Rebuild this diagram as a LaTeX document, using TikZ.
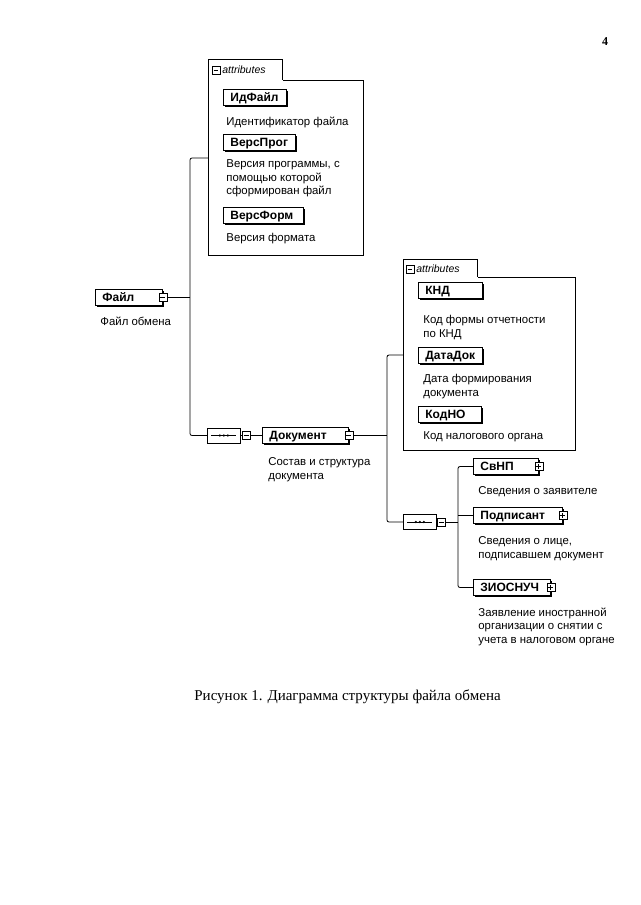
\documentclass[tikz,border=0pt]{standalone}
\usepackage{fontspec}
\setmainfont{Liberation Serif}
\newfontfamily\arialf{Liberation Sans}
\usetikzlibrary{shapes.misc,shadows}
\begin{document}
\begin{tikzpicture}[x=1pt,y=-1pt,
  line width=0.8pt,
  elem/.style={draw, line width=0.8pt, fill=white, anchor=west, minimum height=15.5pt,
    inner xsep=7pt, inner ysep=0pt, align=left, text width=#1,
    text height=8.6pt, text depth=0pt,
    font=\arialf\bfseries\fontsize{12}{13}\selectfont,
    drop shadow={shadow xshift=1.3pt, shadow yshift=-1.3pt, fill=black, opacity=1}},
  desc/.style={anchor=north west, inner sep=0pt, align=left,
    font=\arialf\fontsize{11.4}{13.5}\selectfont},
  mbox/.style={draw, fill=white, line width=0.6pt, minimum size=8pt, inner sep=0pt,
    path picture={\draw[line width=0.7pt] ([xshift=1.6pt]path picture bounding box.west) -- ([xshift=-1.6pt]path picture bounding box.east);}},
  pbox/.style={draw, fill=white, line width=0.6pt, minimum size=8pt, inner sep=0pt,
    path picture={\draw[line width=0.7pt] ([xshift=1.6pt]path picture bounding box.west) -- ([xshift=-1.6pt]path picture bounding box.east);
      \draw[line width=0.7pt] ([yshift=1.6pt]path picture bounding box.south) -- ([yshift=-1.6pt]path picture bounding box.north);}},
  seq/.style={chamfered rectangle, chamfered rectangle xsep=4pt, draw, line width=0.8pt,
    minimum width=33pt, minimum height=15pt, inner sep=0pt, anchor=west,
    path picture={\draw[line width=0.7pt] ([xshift=4pt]path picture bounding box.west) -- ([xshift=-4pt]path picture bounding box.east);
      \foreach \d in {-4,0,4} \fill ([xshift=\d pt]path picture bounding box.center) circle (1.3pt);}},
  attlabel/.style={anchor=west, inner sep=0pt, font=\arialf\itshape\fontsize{10.5}{12}\selectfont},
  cont/.style={anchor=north west, inner sep=0pt}
]
\useasboundingbox (0,0) rectangle (640,905);

% page number
\node[font=\bfseries\fontsize{12}{14}\selectfont] (pg) at (605,42) {4};

% ---------- root element
\node[elem=53pt] (fajl) at (95,297.5) {Файл};
\node[mbox] (fajlm) at (fajl.east) {};
\node[desc] (fajld) at (100,317) {Файл обмена};

% ---------- attributes box 1
\node[cont, minimum width=74pt, minimum height=20pt, anchor=south west] (tab1) at (208,80) {};
\node[cont, minimum width=155pt, minimum height=175pt] (att1) at (208,80) {};
\draw (tab1.south east) -- (att1.north east) -- (att1.south east) -- (att1.south west)
      -- (tab1.north west) -- (tab1.north east) -- (tab1.south east);
\node[mbox] (tab1m) at (216,70) {};
\node[attlabel] (tab1t) at (222,70) {attributes};

\node[elem=49pt] (idf) at (223,97.5) {ИдФайл};
\node[desc] (idfd) at (226,116.5) {Идентификатор файла};
\node[elem=58pt] (vprog) at (223,142.5) {ВерсПрог};
\node[desc] (vprogd) at (226,159.5) {Версия программы, с\\помощью которой\\сформирован файл};
\node[elem=66pt] (vform) at (223,215.5) {ВерсФорм};
\node[desc] (vformd) at (226,232.5) {Версия формата};

% ---------- sequence 1 and Документ
\node[seq] (seq1) at (207,435.5) {};
\node[mbox, anchor=west] (seq1m) at ([xshift=1pt]seq1.east) {};
\node[elem=72pt] (doc) at (262,435.5) {Документ};
\node[mbox] (docm) at (doc.east) {};
\node[desc] (docd) at (268,457.5) {Состав и структура\\документа};

% connectors from Файл
\coordinate (j1) at (190,297.5);
\coordinate (j1top) at (190,158);
\coordinate (j1bot) at (190,435.5);
\draw (fajlm.east) -- (j1);
\draw[rounded corners=2pt] (att1.west |- j1top) -- (j1top) -- (j1bot) -- (seq1.west);
\draw (seq1.east) -- (seq1m.west);
\draw (seq1m.east) -- (doc.west);

% ---------- attributes box 2
\node[cont, minimum width=74pt, minimum height=17pt, anchor=south west] (tab2) at (403,277) {};
\node[cont, minimum width=172pt, minimum height=173pt] (att2) at (403,277) {};
\draw (tab2.south east) -- (att2.north east) -- (att2.south east) -- (att2.south west)
      -- (tab2.north west) -- (tab2.north east) -- (tab2.south east);
\node[mbox] (tab2m) at (410,269) {};
\node[attlabel] (tab2t) at (416,269) {attributes};

\node[elem=50pt] (knd) at (418,290.5) {КНД};
\node[desc] (kndd) at (423,315) {Код формы отчетности\\по КНД};
\node[elem=50pt] (datadok) at (418,355.5) {ДатаДок};
\node[desc] (datadokd) at (423,374) {Дата формирования\\документа};
\node[elem=49pt] (kodno) at (418,414.5) {КодНО};
\node[desc] (kodnod) at (423,431.5) {Код налогового органа};

% ---------- sequence 2
\node[seq] (seq2) at (403,522) {};
\node[mbox, anchor=west] (seq2m) at ([xshift=0.5pt]seq2.east) {};

\coordinate (j2) at (387,435.5);
\coordinate (j2top) at (387,355);
\coordinate (j2bot) at (387,522);
\draw (docm.east) -- (j2);
\draw[rounded corners=2pt] (att2.west |- j2top) -- (j2top) -- (j2bot) -- (seq2.west);
\draw (seq2.east) -- (seq2m.west);

% ---------- children
\node[elem=51pt] (svnp) at (473,466.5) {СвНП};
\node[pbox] (svnpp) at (svnp.east) {};
\node[desc] (svnpd) at (478,486.5) {Сведения о заявителе};
\node[elem=75pt] (podp) at (473,515.5) {Подписант};
\node[pbox] (podpp) at (podp.east) {};
\node[desc] (podpd) at (478,536.5) {Сведения о лице,\\подписавшем документ};
\node[elem=63pt] (zio) at (473,587.5) {ЗИОСНУЧ};
\node[pbox] (ziop) at (zio.east) {};
\node[desc] (ziod) at (478,607.5) {Заявление иностранной\\организации о снятии с\\учета в налоговом органе};

\coordinate (j3top) at (458,466.5);
\coordinate (j3bot) at (458,587.5);
\draw (seq2m.east) -- (seq2m.east -| j3top);
\draw[rounded corners=2pt] (svnp.west) -- (j3top) -- (j3bot) -- (zio.west);
\draw (podp.west) -- (podp.west -| j3top);

% caption
\node[anchor=west, inner sep=0pt, font=\fontsize{15}{18}\selectfont] (cap) at (194,697) {Рисунок 1. Диаграмма структуры файла обмена};
\end{tikzpicture}
\end{document}
